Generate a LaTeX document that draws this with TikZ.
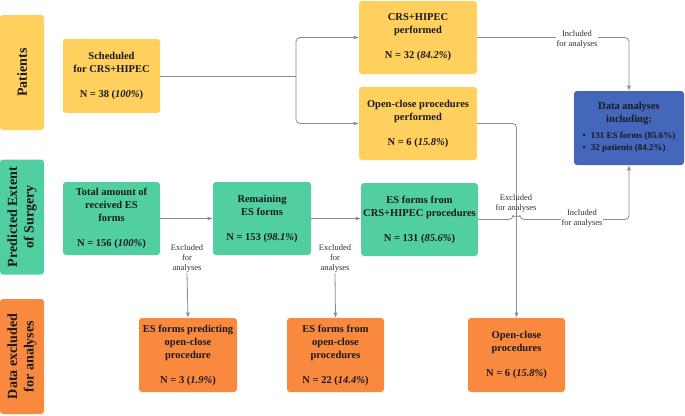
\documentclass[tikz,border=0pt]{standalone}
\usepackage{fontspec}
\setmainfont{Liberation Serif}
\usepackage{xcolor}
\usetikzlibrary{positioning,arrows}
\definecolor{patyellow}{HTML}{FFD05E}
\definecolor{esgreen}{HTML}{52CFA0}
\definecolor{anablue}{HTML}{4466BB}
\definecolor{exorange}{HTML}{F9893F}
\definecolor{linegray}{HTML}{8C8C8C}
\definecolor{inkdark}{HTML}{1A1A1A}

\begin{document}
\begin{tikzpicture}[x=1pt,y=-1pt,
    every node/.style={text=inkdark},
    box/.style={rounded corners=3pt,align=center,inner sep=2pt,
      font=\fontsize{10.5}{13}\selectfont\bfseries},
    lanelbl/.style={rounded corners=3pt,rotate=90,align=center,inner sep=0pt,
      minimum height=44pt,minimum width=115pt,
      font=\fontsize{14}{16.5}\selectfont\bfseries},
    note/.style={fill=white,align=center,inner sep=1pt,text=black!80,
      font=\fontsize{8.5}{10}\selectfont},
    arr/.style={draw=linegray,line width=0.8pt,-latex,rounded corners=4pt},
    plain/.style={draw=linegray,line width=0.8pt,rounded corners=4pt}]
  \useasboundingbox (0,0) rectangle (685,415);

  % swim lanes
  \node[lanelbl,fill=patyellow] (lanePat) at (22,72.5) {Patients};
  \node[lanelbl,fill=esgreen] (laneES) at (22,217) {Predicted Extent\\of Surgery};
  \node[lanelbl,fill=exorange] (laneEx) at (22,356.5) {Data excluded\\for analyses};

  % patients
  \node[box,fill=patyellow,minimum width=97pt,minimum height=74pt] (sched) at (111.5,76)
    {Scheduled\\for CRS+HIPEC\\[12pt]N = 38 (\textit{100\%})};
  \node[box,fill=patyellow,minimum width=118pt,minimum height=73pt] (crs) at (418,37.5)
    {CRS+HIPEC\\performed\\[12pt]N = 32 (\textit{84.2\%})};
  \node[box,fill=patyellow,minimum width=118pt,minimum height=73pt] (oc) at (418,123.5)
    {Open-close procedures\\performed\\[12pt]N = 6 (\textit{15.8\%})};
  \node[box,fill=anablue,minimum width=110pt,minimum height=74pt] (ana) at (629,128)
    {Data analyses\\including:\\[4pt]{\fontsize{9}{12}\selectfont\begin{tabular}{@{}l@{}}
      \textbullet\hspace{5pt}131 ES forms (85.6\%)\\
      \textbullet\hspace{5pt}32 patients (84.2\%)\end{tabular}}};

  % ES forms
  \node[box,fill=esgreen,minimum width=97pt,minimum height=73pt] (total) at (111.5,218.5)
    {Total amount of\\received ES\\forms\\[12pt]N = 156 (\textit{100\%})};
  \node[box,fill=esgreen,minimum width=98pt,minimum height=73pt] (remain) at (262,218.5)
    {Remaining\\ES forms\\[12pt]N = 153 (\textit{98.1\%})};
  \node[box,fill=esgreen,minimum width=115pt,minimum height=73pt] (escrs) at (419.5,219.5)
    {ES forms from\\CRS+HIPEC procedures\\[12pt]N = 131 (\textit{85.6\%})};

  % excluded
  \node[box,fill=exorange,minimum width=98pt,minimum height=74pt] (espred) at (188,355)
    {ES forms predicting\\open-close\\procedure\\[12pt]N = 3 (\textit{1.9\%})};
  \node[box,fill=exorange,minimum width=97pt,minimum height=74pt] (esoc) at (335.5,355)
    {ES forms from\\open-close\\procedures\\[12pt]N = 22 (\textit{14.4\%})};
  \node[box,fill=exorange,minimum width=97pt,minimum height=74pt] (ocproc) at (516.5,355)
    {Open-close\\procedures\\[12pt]N = 6 (\textit{15.8\%})};

  % connectors
  \coordinate (split) at (296,76);
  \draw[plain] (sched.east) -- (split);
  \draw[arr] (split) |- (crs.west);
  \draw[arr] (split) |- (oc.west);
  \draw[arr] (crs.east) -| (ana.north);
  \node[note] (inc1) at (577,39) {Included\\for analyses};
  \draw[arr] (oc.east) -| (ocproc.north);

  \draw[arr] (total) -- (remain);
  \node[note] (exc1) at (187,258) {Excluded\\for\\analyses};
  \draw[arr] (exc1.south) -- (espred.north);
  \draw[arr] (remain.east) -- (remain.east -| escrs.west);
  \node[note] (exc2) at (335,258) {Excluded\\for\\analyses};
  \draw[arr] (exc2.south) -- (esoc.north);

  \coordinate (hop) at (ocproc.north |- escrs.east);
  \draw[arr] (escrs.east) -- ([xshift=-3.5pt]hop) arc[start angle=180,end angle=0,radius=3.5pt]
    -| (ana.south);
  \node[note,fill=none] (exc3) at (516,203) {Excluded\\for analyses};
  \node[note] (inc2) at (582,218) {Included\\for analyses};
\end{tikzpicture}
\end{document}
